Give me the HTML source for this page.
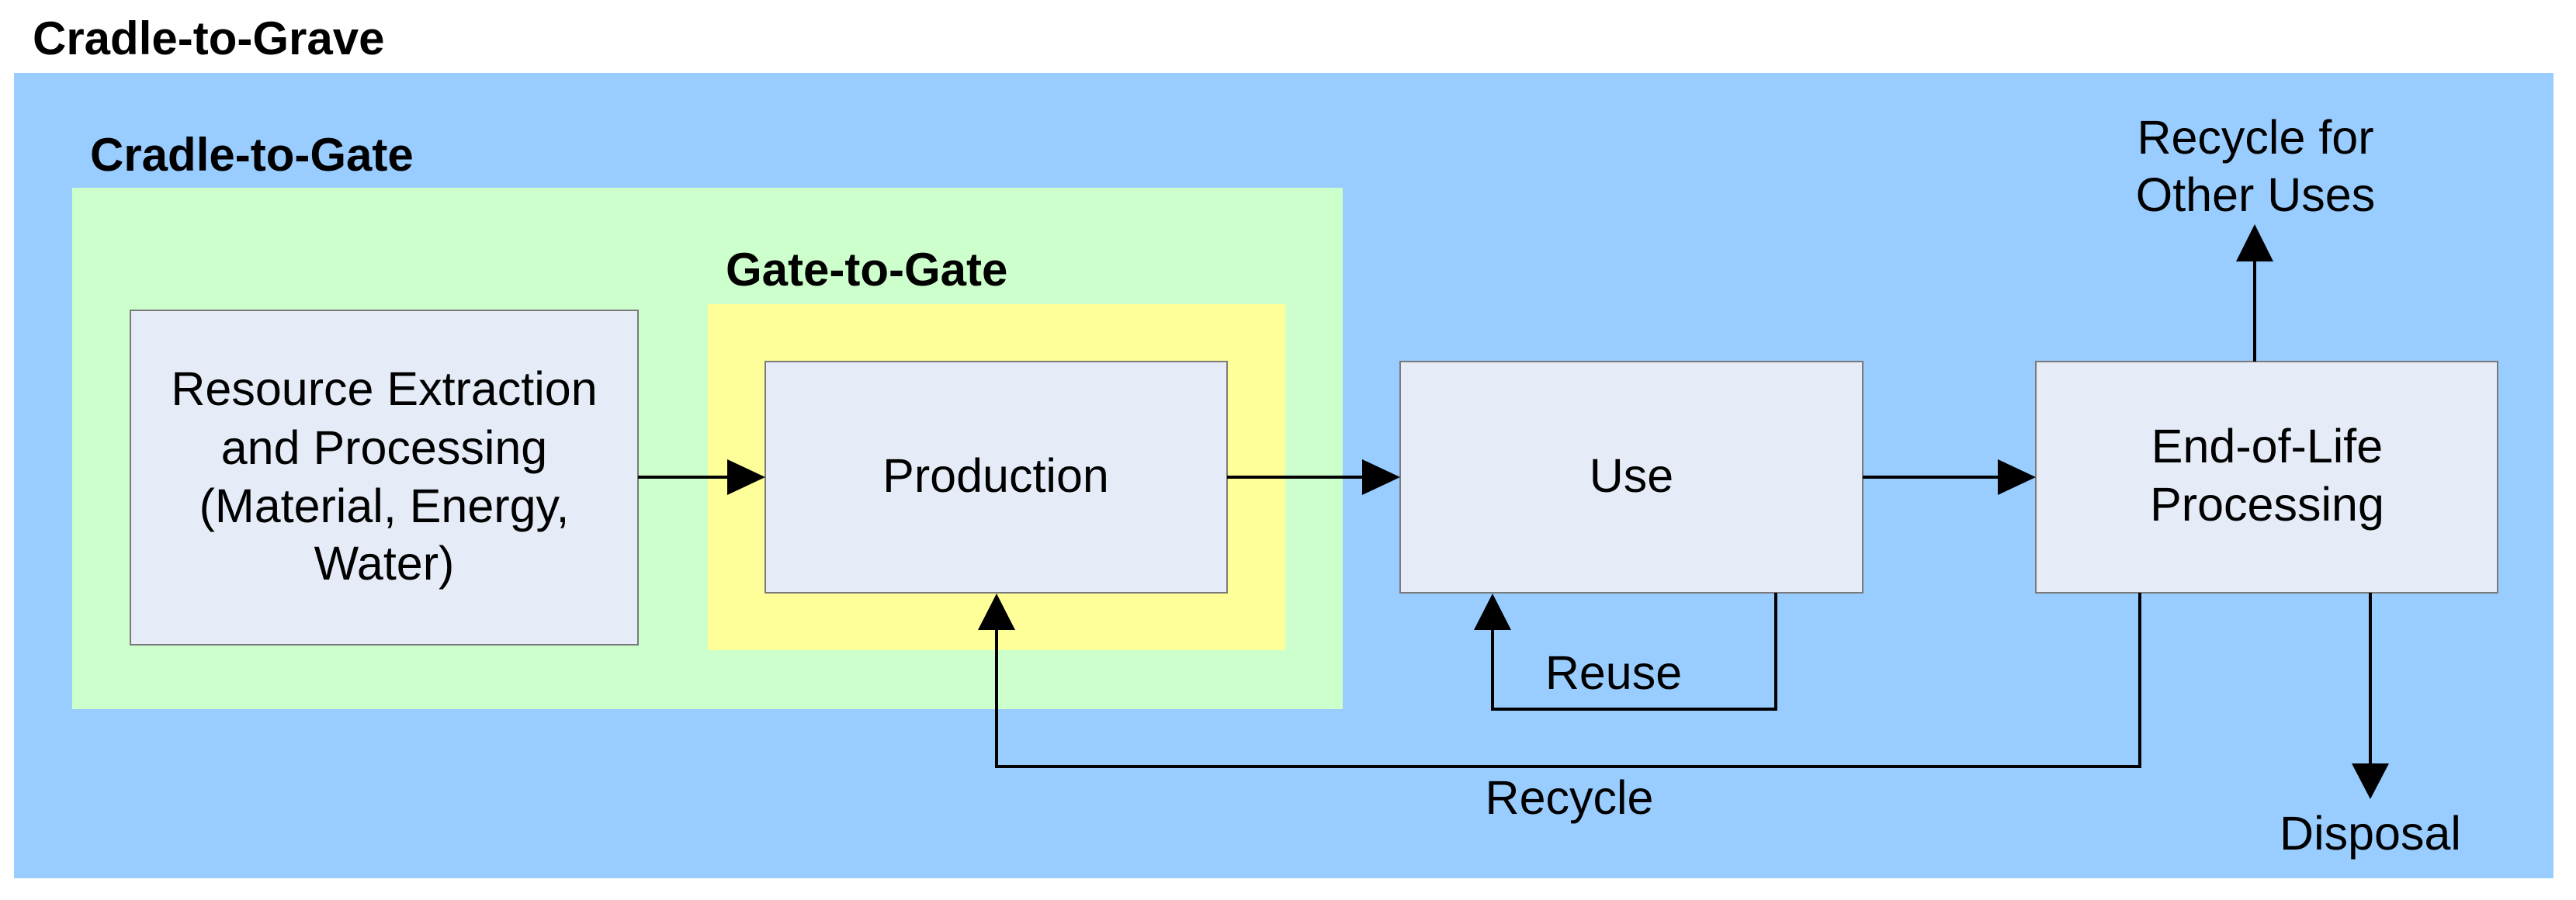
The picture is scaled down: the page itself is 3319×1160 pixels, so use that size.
<!DOCTYPE html>
<html><head><meta charset="utf-8"><style>
html,body{margin:0;padding:0;background:#fff;}
svg{display:block;}
text{font-family:"Liberation Sans",Arial,sans-serif;fill:#000;}
</style></head><body>
<svg width="3319" height="1160" viewBox="0 0 3319 1160" xmlns="http://www.w3.org/2000/svg">
<rect x="0" y="0" width="3319" height="1160" fill="#fff"/>
<text x="42" y="70" font-size="60" font-weight="bold">Cradle-to-Grave</text>
<rect x="18" y="94" width="3272" height="1038" fill="#99CCFF"/>
<rect x="93" y="242" width="1637" height="672" fill="#CCFFCC"/>
<text x="116" y="220" font-size="60" font-weight="bold">Cradle-to-Gate</text>
<rect x="912" y="392" width="744" height="446" fill="#FFFF99"/>
<text x="935" y="368" font-size="60" font-weight="bold">Gate-to-Gate</text>

<g fill="#E6ECF7" stroke="#7A7A7A" stroke-width="2">
<rect x="168" y="400" width="654" height="431"/>
<rect x="986" y="466" width="595" height="298"/>
<rect x="1804" y="466" width="596" height="298"/>
<rect x="2623" y="466" width="595" height="298"/>
</g>

<g font-size="61" text-anchor="middle">
<text x="495" y="522">Resource Extraction</text>
<text x="495" y="598">and Processing</text>
<text x="495" y="673">(Material, Energy,</text>
<text x="495" y="747">Water)</text>
<text x="1283" y="634">Production</text>
<text x="2102" y="634">Use</text>
<text x="2921" y="596">End-of-Life</text>
<text x="2921" y="671">Processing</text>
<text x="2906" y="198">Recycle for</text>
<text x="2906" y="272">Other Uses</text>
<text x="3054" y="1095">Disposal</text>
<text x="2022" y="1049">Recycle</text>
<text x="2079" y="888">Reuse</text>
</g>

<g stroke="#000" stroke-width="4" fill="none">
<line x1="822" y1="615" x2="940" y2="615"/>
<line x1="1581" y1="615" x2="1758" y2="615"/>
<line x1="2400" y1="615" x2="2577" y2="615"/>
<polyline points="2288,764 2288,914 1923,914 1923,810"/>
<polyline points="2757,764 2757,988 1284,988 1284,810"/>
<line x1="2905" y1="466" x2="2905" y2="334"/>
<line x1="3054" y1="764" x2="3054" y2="986"/>
</g>
<g fill="#000">
<polygon points="986,615 937,592 937,638"/>
<polygon points="1804,615 1755,592 1755,638"/>
<polygon points="2623,615 2574,592 2574,638"/>
<polygon points="1284,765 1260,812 1308,812"/>
<polygon points="1923,765 1899,812 1947,812"/>
<polygon points="2905,289 2881,337 2929,337"/>
<polygon points="3054,1030 3030,984 3078,984"/>
</g>
</svg>
</body></html>
